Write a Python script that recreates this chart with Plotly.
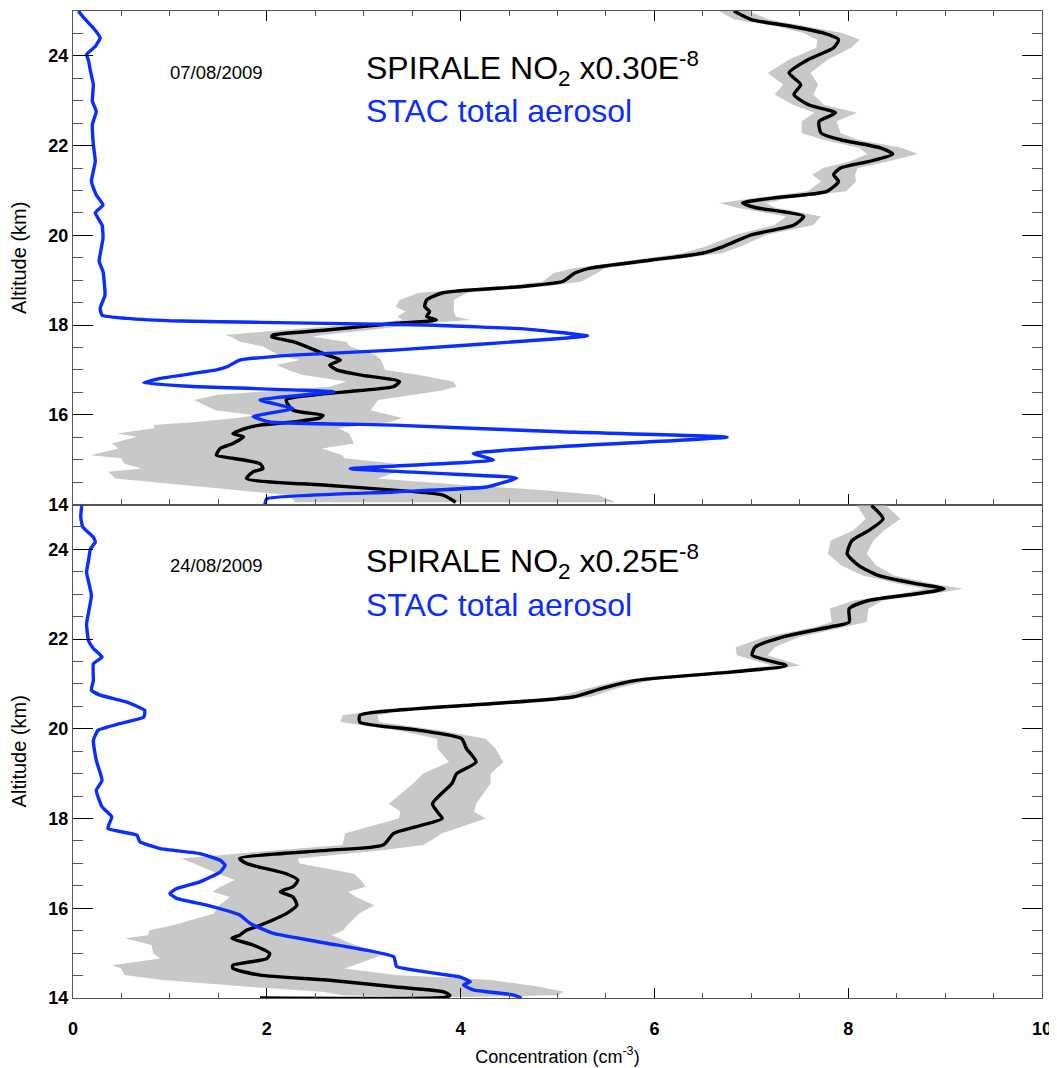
import plotly.graph_objects as go

# ---------------- Panel 1 : 07/08/2009 ----------------
no2_1_alt = [25.0, 24.81, 24.66, 24.51, 24.36, 24.18, 23.92, 23.62, 23.36, 23.14, 22.91, 22.73, 22.54,
             22.28, 22.13, 21.95, 21.81, 21.65, 21.50, 21.35, 21.20, 20.98, 20.83, 20.72, 20.62, 20.42,
             20.23, 20.01, 19.75, 19.60, 19.45, 19.27, 19.16, 18.97, 18.86, 18.72, 18.56, 18.41, 18.30,
             18.19, 18.11, 18.04, 17.89, 17.78, 17.74, 17.63, 17.52, 17.33, 17.22, 17.11, 17.00, 16.89,
             16.74, 16.63, 16.54, 16.44, 16.33, 16.10, 15.99, 15.93, 15.84, 15.77, 15.70, 15.58, 15.51,
             15.36, 15.25, 15.10, 15.03, 14.91, 14.80, 14.73, 14.58, 14.43, 14.32, 14.21, 14.05]
no2_1_val = [6.82, 7.00, 7.41, 7.74, 7.90, 7.85, 7.59, 7.39, 7.51, 7.44, 7.59, 7.87, 7.70,
             7.72, 7.92, 8.33, 8.46, 8.22, 7.92, 7.85, 7.90, 7.78, 7.22, 6.91, 7.04, 7.54,
             7.44, 7.00, 6.71, 6.49, 5.97, 5.34, 5.18, 5.05, 4.64, 3.82, 3.65, 3.63, 3.68,
             3.65, 3.75, 3.34, 2.62, 2.07, 2.05, 2.27, 2.41, 2.62, 2.76, 2.65, 2.72, 2.96,
             3.37, 3.31, 2.96, 2.48, 2.20, 2.27, 2.58, 2.55, 2.27, 1.93, 1.79, 1.65, 1.76,
             1.65, 1.52, 1.48, 1.65, 1.93, 1.96, 1.86, 1.79, 2.62, 3.31, 3.82, 3.95]
no2_1_err = [0.15, 0.18, 0.15, 0.20, 0.22, 0.18, 0.20, 0.22, 0.18, 0.20, 0.16, 0.22, 0.18,
             0.20, 0.18, 0.22, 0.26, 0.20, 0.18, 0.22, 0.18, 0.20, 0.18, 0.24, 0.20, 0.18,
             0.20, 0.16, 0.18, 0.20, 0.18, 0.16, 0.22, 0.20, 0.22, 0.25, 0.28, 0.30, 0.25,
             0.30, 0.35, 0.30, 0.45, 0.50, 0.42, 0.55, 0.45, 0.50, 0.42, 0.55, 0.50, 0.60,
             0.55, 0.65, 0.85, 1.00, 0.95, 0.80, 0.70, 0.85, 1.00, 1.10, 0.95, 1.20, 1.10,
             1.25, 1.05, 1.30, 1.15, 1.40, 1.25, 1.50, 1.35, 1.45, 1.55, 1.60, 1.65]

aer_1_alt = [25.0, 24.85, 24.62, 24.40, 24.21, 24.03, 23.90, 23.66, 23.36, 22.99, 22.76, 22.47, 22.02,
             21.65, 21.20, 20.90, 20.68, 20.50, 20.23, 19.94, 19.42, 19.19, 18.67, 18.37, 18.22, 18.15,
             18.09, 18.06, 18.00, 17.91, 17.76, 17.70, 17.44, 17.33, 17.22, 17.07, 17.00, 16.81, 16.71,
             16.63, 16.51, 16.33, 16.14, 15.96, 15.84, 15.77, 15.62, 15.50, 15.29, 15.14, 14.99, 14.80,
             14.62, 14.59, 14.39, 14.28, 14.13, 14.00]
aer_1_val = [0.055, 0.11, 0.21, 0.28, 0.23, 0.14, 0.16, 0.18, 0.21, 0.20, 0.24, 0.20, 0.21,
             0.23, 0.19, 0.24, 0.31, 0.23, 0.30, 0.31, 0.27, 0.31, 0.33, 0.28, 0.30, 0.55,
             1.10, 1.93, 3.65, 4.68, 5.31, 5.03, 3.31, 2.27, 1.72, 1.59, 1.48, 0.90, 0.73,
             1.24, 2.69, 1.93, 2.27, 1.86, 2.03, 3.31, 5.03, 6.75, 5.03, 4.13, 4.34, 2.86,
             4.47, 4.58, 4.27, 3.31, 2.00, 1.98]

# ---------------- Panel 2 : 24/08/2009 ----------------
no2_2_alt = [24.98, 24.68, 24.42, 24.20, 23.90, 23.64, 23.42, 23.23, 23.12, 23.01, 22.86, 22.68, 22.38,
             22.27, 22.04, 21.82, 21.64, 21.41, 21.27, 21.08, 20.90, 20.71, 20.56, 20.41, 20.30, 20.15,
             19.97, 19.78, 19.56, 19.26, 19.00, 18.78, 18.33, 18.15, 18.00, 17.67, 17.41, 17.29, 17.11,
             17.00, 16.77, 16.63, 16.48, 16.37, 16.25, 16.07, 15.88, 15.62, 15.51, 15.40, 15.33, 15.18,
             14.99, 14.88, 14.73, 14.66, 14.51, 14.40, 14.25, 14.14, 14.06, 14.02, 14.00]
no2_2_val = [8.24, 8.36, 8.21, 8.04, 7.99, 8.11, 8.31, 8.71, 8.99, 8.71, 8.21, 8.01, 8.01,
             7.81, 7.31, 7.04, 7.01, 7.36, 6.81, 5.81, 5.46, 5.16, 4.31, 3.31, 2.96, 2.96,
             3.56, 4.01, 4.06, 4.16, 3.96, 3.91, 3.71, 3.76, 3.81, 3.31, 3.20, 2.62, 1.72,
             1.79, 2.20, 2.32, 2.27, 2.14, 2.27, 2.31, 2.20, 1.93, 1.79, 1.72, 1.64, 1.86,
             2.03, 2.00, 1.65, 1.65, 1.93, 2.62, 3.31, 3.82, 3.89, 3.85, 1.93]
no2_2_err = [0.15, 0.18, 0.16, 0.22, 0.20, 0.18, 0.16, 0.18, 0.20, 0.16, 0.15, 0.20, 0.18,
             0.15, 0.18, 0.20, 0.16, 0.15, 0.18, 0.16, 0.15, 0.18, 0.16, 0.15, 0.18, 0.20,
             0.22, 0.25, 0.30, 0.28, 0.35, 0.40, 0.45, 0.38, 0.45, 0.50, 0.42, 0.55, 0.60,
             0.55, 0.70, 0.65, 0.75, 0.70, 0.65, 0.80, 0.75, 0.90, 1.00, 0.95, 1.10, 1.05,
             1.20, 1.10, 1.25, 1.15, 1.40, 1.70, 1.50, 1.25, 1.10, 0.20, 0.05]

aer_2_alt = [24.98, 24.72, 24.50, 24.27, 24.16, 24.01, 23.75, 23.49, 22.97, 22.34, 21.97, 21.79, 21.60,
             21.45, 21.08, 20.86, 20.75, 20.60, 20.41, 20.26, 20.12, 19.97, 19.74, 19.30, 18.85, 18.63,
             18.26, 18.04, 17.78, 17.63, 17.48, 17.33, 17.22, 17.07, 16.96, 16.81, 16.59, 16.44, 16.33,
             16.22, 16.07, 15.85, 15.66, 15.44, 15.22, 14.92, 14.70, 14.47, 14.36, 14.29, 14.18, 14.07,
             14.00]
aer_2_val = [0.09, 0.08, 0.10, 0.21, 0.23, 0.18, 0.16, 0.14, 0.19, 0.14, 0.16, 0.21, 0.30,
             0.21, 0.21, 0.19, 0.28, 0.55, 0.74, 0.73, 0.49, 0.26, 0.21, 0.24, 0.30, 0.24,
             0.30, 0.40, 0.36, 0.66, 0.69, 0.90, 1.31, 1.52, 1.57, 1.52, 1.31, 1.07, 1.00,
             1.07, 1.38, 1.72, 1.83, 2.07, 2.62, 3.31, 3.34, 3.99, 4.10, 4.03, 4.13, 4.54,
             4.63]

dates = ["07/08/2009", "24/08/2009"]
no2_labels = ["SPIRALE NO<sub>2</sub> x0.30E<sup>-8</sup>", "SPIRALE NO<sub>2</sub> x0.25E<sup>-8</sup>"]
aer_label = "STAC total aerosol"
x_title = "Concentration (cm<sup>-3</sup>)"
y_title = "Altitude (km)"

BLUE = "#0a2eff"
GREY = "#c8c8c8"
FONT = "Liberation Sans"

fig = go.Figure()

panels = [
    (no2_1_alt, no2_1_val, no2_1_err, aer_1_alt, aer_1_val, "x", "y"),
    (no2_2_alt, no2_2_val, no2_2_err, aer_2_alt, aer_2_val, "x2", "y2"),
]

for alt, val, err, a_alt, a_val, xa, ya in panels:
    lo = [v - e for v, e in zip(val, err)]
    hi = [v + e for v, e in zip(val, err)]
    fig.add_trace(go.Scatter(x=lo + hi[::-1], y=alt + alt[::-1], fill="toself",
                             fillcolor=GREY, line=dict(width=0, color=GREY), mode="lines",
                             xaxis=xa, yaxis=ya, showlegend=False, hoverinfo="skip"))
    fig.add_trace(go.Scatter(x=val, y=alt, mode="lines",
                             line=dict(color="black", width=3.4, shape="spline", smoothing=0.6),
                             xaxis=xa, yaxis=ya, showlegend=False))
    fig.add_trace(go.Scatter(x=a_val, y=a_alt, mode="lines",
                             line=dict(color=BLUE, width=3.4, shape="spline", smoothing=0.4),
                             xaxis=xa, yaxis=ya, showlegend=False))

common_x = dict(range=[0, 10], dtick=2, tick0=0, ticks="inside", ticklen=10, tickwidth=1.3,
                tickcolor="black", showline=True, linecolor="#555", linewidth=1.3,
                showgrid=False, zeroline=False, automargin=False,
                minor=dict(ticks="inside", ticklen=5, dtick=0.5, tickcolor="#555", tickwidth=1.2),
                tickfont=dict(family=FONT, size=18, color="black", weight="bold"))
common_y = dict(range=[14, 25], dtick=2, tick0=14, ticks="inside", ticklen=20, tickwidth=1.3,
                tickcolor="black", showline=True, linecolor="#555", linewidth=1.3, mirror="ticks",
                showgrid=False, zeroline=False, automargin=False,
                minor=dict(ticks="inside", ticklen=10, dtick=0.5, tickcolor="#555", tickwidth=1.2),
                tickfont=dict(family=FONT, size=18, color="black", weight="bold"),
                title=dict(text=y_title, font=dict(family=FONT, size=20, color="black"), standoff=17))

# The page body has an 8px default margin, so the figure is sized/offset to compensate.
fig.update_layout(
    width=1049, height=1060,
    margin=dict(l=65, r=15, t=3, b=70, autoexpand=False),
    paper_bgcolor="white", plot_bgcolor="white",
    xaxis=dict(**common_x, domain=[0, 1], anchor="y", showticklabels=False, mirror="ticks", matches="x2"),
    xaxis2=dict(**common_x, domain=[0, 1], anchor="y2", mirror=True, ticklabelstandoff=14,
                title=dict(text=x_title, font=dict(family=FONT, size=18, color="black"), standoff=12)),
    yaxis=dict(**common_y, domain=[0.5, 1], anchor="x"),
    yaxis2=dict(**common_y, domain=[0, 0.5], anchor="x2"),
)

for i, (xr, yr) in enumerate([("x", "y"), ("x2", "y2")]):
    fig.add_annotation(x=1.48, y=23.63, xref=xr, yref=yr, text=dates[i], showarrow=False,
                       xanchor="center", yanchor="middle",
                       font=dict(family=FONT, size=18.5, color="black"))
    fig.add_annotation(x=3.0, y=23.72, xref=xr, yref=yr, text=no2_labels[i], showarrow=False,
                       xanchor="left", yanchor="middle",
                       font=dict(family=FONT, size=32, color="black"))
    fig.add_annotation(x=3.0, y=22.77, xref=xr, yref=yr, text=aer_label, showarrow=False,
                       xanchor="left", yanchor="middle",
                       font=dict(family=FONT, size=32, color=BLUE))

fig.write_html("out.html")
